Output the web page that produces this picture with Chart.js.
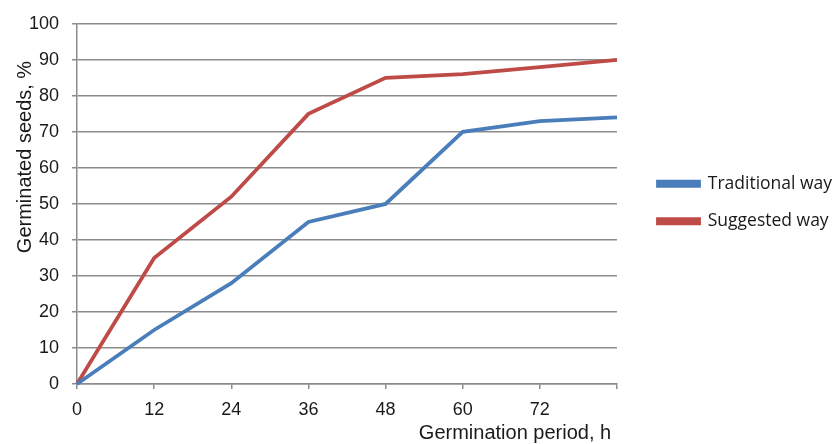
<!DOCTYPE html>
<html>
<head>
<meta charset="utf-8">
<script src="https://cdn.jsdelivr.net/npm/chart.js@4.4.0/dist/chart.umd.min.js"></script>
<style>
html,body{margin:0;padding:0;background:#fff;}
#wrap{width:833px;height:444px;position:relative;}
</style>
</head>
<body>
<div id="wrap"><canvas id="c"></canvas></div>
<script>
const hours = [0, 12, 24, 36, 48, 60, 72, 84];
const traditionalWay = [0, 15, 28, 45, 50, 70, 73, 74];
const suggestedWay = [0, 35, 52, 75, 85, 86, 88, 90];
const yTicks = [0, 10, 20, 30, 40, 50, 60, 70, 80, 90, 100];
const xTickLabels = ['0', '12', '24', '36', '48', '60', '72', ''];
const seriesNames = ['Traditional way', 'Suggested way'];
const xTitle = 'Germination period, h';
const yTitle = 'Germinated seeds, %';

const BLUE = '#4a7ebb';
const RED = '#be4b48';
const GRID = '#8c8c8c';
const AXIS_FONT = "'Liberation Sans', Arial, sans-serif";

const titlesPlugin = {
  id: 'titles',
  afterInit(chart) {
    const lg = chart.legend;
    if (lg) {
      const f = lg.fit;
      lg.fit = function () { f.call(this); this.width = 216; };
    }
  },
  afterLayout(chart) {
    const lg = chart.legend;
    if (lg) {
      lg.left = 638; lg.right = 833;
      lg.top = 155; lg.bottom = 444;
    }
  },
  afterDraw(chart) {
    const ctx = chart.ctx;
    ctx.save();
    ctx.fillStyle = '#1a1a1a';
    ctx.font = "20px " + AXIS_FONT;
    ctx.textAlign = 'center';
    ctx.textBaseline = 'middle';
    ctx.fillText(xTitle, 515, 433);
    ctx.translate(25, 157);
    ctx.rotate(-Math.PI / 2);
    ctx.fillText(yTitle, 0, 0);
    ctx.restore();
  }
};

new Chart(document.getElementById('c'), {
  type: 'line',
  data: {
    datasets: [
      {
        label: seriesNames[0],
        data: hours.map((h, i) => ({x: h, y: traditionalWay[i]})),
        borderColor: BLUE,
        backgroundColor: BLUE,
        borderWidth: 3.8,
        pointRadius: 0,
        tension: 0,
        clip: false
      },
      {
        label: seriesNames[1],
        data: hours.map((h, i) => ({x: h, y: suggestedWay[i]})),
        borderColor: RED,
        backgroundColor: RED,
        borderWidth: 3.8,
        pointRadius: 0,
        tension: 0,
        clip: false
      }
    ]
  },
  options: {
    responsive: true,
    maintainAspectRatio: false,
    animation: false,
    layout: {padding: {top: 23, right: 0, bottom: 0, left: 0}},
    plugins: {
      tooltip: {enabled: false},
      legend: {
        position: 'right',
        align: 'start',
        labels: {
          boxWidth: 41,
          boxHeight: 4,
          padding: 20,
          color: '#1a1a1a',
          font: {family: "'Open Sans', sans-serif", size: 17.5}
        }
      }
    },
    scales: {
      x: {
        type: 'linear',
        min: hours[0],
        max: hours[hours.length - 1],
        afterFit(s) { s.height = 60; },
        afterBuildTicks(s) { s.ticks = hours.map(v => ({value: v})); },
        ticks: {
          autoSkip: false,
          maxRotation: 0,
          padding: 10,
          color: '#1a1a1a',
          font: {family: AXIS_FONT, size: 18}
        ,
          callback: (v) => xTickLabels[hours.indexOf(v)]
        },
        grid: {
          drawOnChartArea: false,
          drawTicks: true,
          tickLength: 5,
          color: GRID,
          lineWidth: 1.5
        },
        border: {display: true, color: GRID, width: 1.5}
      },
      y: {
        min: 0,
        max: 100,
        afterFit(s) { s.width = 77; },
        afterBuildTicks(s) { s.ticks = yTicks.map(v => ({value: v})); },
        ticks: {
          padding: 13,
          color: '#1a1a1a',
          font: {family: AXIS_FONT, size: 18}
        },
        grid: {
          color: GRID,
          lineWidth: 1.5,
          tickLength: 5
        },
        border: {display: true, color: GRID, width: 1.5}
      }
    }
  },
  plugins: [titlesPlugin]
});
</script>
</body>
</html>
